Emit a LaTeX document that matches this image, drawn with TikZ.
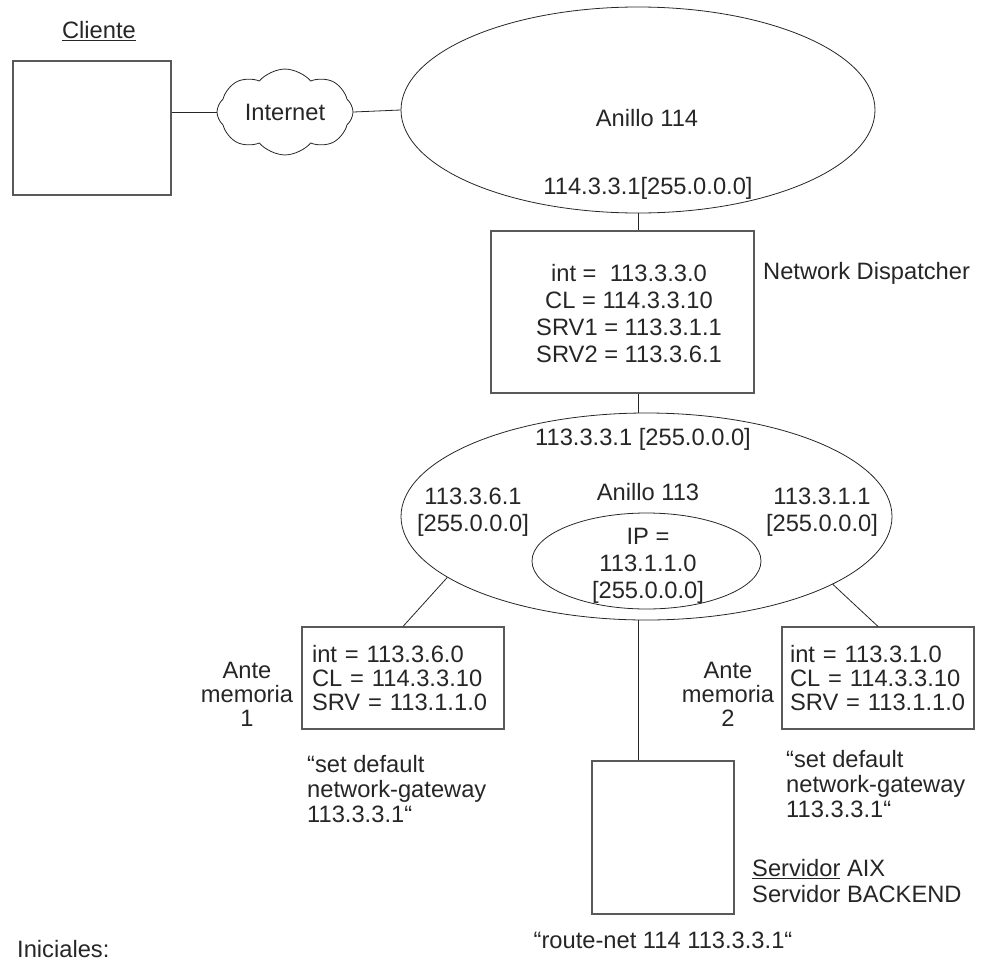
\documentclass[tikz,border=0pt]{standalone}
\usepackage{fontspec}
\setmainfont{Liberation Sans}
\usetikzlibrary{shapes.geometric,shapes.symbols}
\begin{document}
\begin{tikzpicture}[x=1pt, y=-1pt,
  every node/.style={text=black!85, font=\fontsize{23.7}{27}\selectfont, inner sep=0pt},
  box/.style={draw=black!65, line width=1.1pt, rectangle},
  ring/.style={draw=black!85, line width=0.8pt, ellipse},
  link/.style={draw=black!85, line width=0.8pt},
  cache/.style={box, align=left, font=\fontsize{23.7}{24}\selectfont, minimum height=102pt},
  note/.style={align=left, font=\fontsize{23.7}{25}\selectfont}]
\useasboundingbox (0,0) rectangle (982,964);
\coordinate (trunk) at (638,0);
% client and internet
\node (cltitle) at (99,31) {\underline{Cliente}};
\node[box, minimum width=158pt, minimum height=134pt] (client) at (92,128) {};
\node[cloud, draw=black!85, line width=0.8pt, cloud puffs=8, cloud puff arc=100, aspect=1.6,
  minimum width=136pt, minimum height=83pt] (inet) at (285,112) {Internet};
% ring 114
\node[ring, minimum width=474pt, minimum height=206pt] (ring114) at (638,110) {};
\node (r114name) at (647,118) {Anillo 114};
\node (r114ip) at (648,188) {114.3.3.1[255.0.0.0]};
\draw[link] (inet.west -| client.east) -- (inet.west);
\draw[link] (inet.east) -- (ring114.west);
% network dispatcher
\node[box, minimum width=263pt, minimum height=162pt] (nd) at (622.5,312) {};
\node[align=center] (ndtext) at (629,314) {int = \ 113.3.3.0\\CL = 114.3.3.10\\SRV1 = 113.3.1.1\\SRV2 = 113.3.6.1};
\node[anchor=west] (ndname) at (763,273) {Network Dispatcher};
\draw[link] (ring114.south -| trunk) -- (nd.north -| trunk);
% ring 113
\node[ring, minimum width=491pt, minimum height=207pt] (ring113) at (646.5,516.5) {};
\node[ring, minimum width=229pt, minimum height=96pt] (ipring) at (646.5,561) {};
\draw[link] (nd.south -| trunk) -- (ring113.north -| trunk);
\node (r113ip) at (643,439) {113.3.3.1 [255.0.0.0]};
\node (r113name) at (648,492) {Anillo 113};
\node[align=center] (r113left) at (473,512) {113.3.6.1\\{[255.0.0.0]}};
\node[align=center] (r113right) at (822,512) {113.3.1.1\\{[255.0.0.0]}};
\node[align=center] (iptext) at (648,566) {IP =\\113.1.1.0\\{[255.0.0.0]}};
% caches
\node[cache, text width=182pt, inner xsep=10pt] (cache1) at (403,678) {int = 113.3.6.0\\CL = 114.3.3.10\\SRV = 113.1.1.0};
\node[cache, text width=176pt, inner xsep=8pt] (cache2) at (878,678) {int = 113.3.1.0\\CL = 114.3.3.10\\SRV = 113.1.1.0};
\node[align=center, font=\fontsize{23.7}{24}\selectfont] (ante1) at (247,694) {Ante\\memoria\\1};
\node[align=center, font=\fontsize{23.7}{24}\selectfont] (ante2) at (728,694) {Ante\\memoria\\2};
\draw[link] (ring113.197) -- (cache1.north);
\draw[link] (ring113.340.6) -- (cache2.north);
\node[note, anchor=west] (gw1) at (307,789) {“set default\\network-gateway\\113.3.3.1“};
\node[note, anchor=west] (gw2) at (786,784) {“set default\\network-gateway\\113.3.3.1“};
% backend server
\node[box, minimum width=142pt, minimum height=153pt] (srv) at (663,837.5) {};
\draw[link] (ring113.south -| trunk) -- (srv.north -| trunk);
\node[align=left, anchor=west, font=\fontsize{23.7}{26}\selectfont] (srvname) at (752,881) {\underline{Servidor} AIX\\Servidor BACKEND};
\node (route) at (663,940) {“route-net 114 113.3.3.1“};
\node[anchor=base west] (inic) at (17,957) {Iniciales:};
\end{tikzpicture}
\end{document}
